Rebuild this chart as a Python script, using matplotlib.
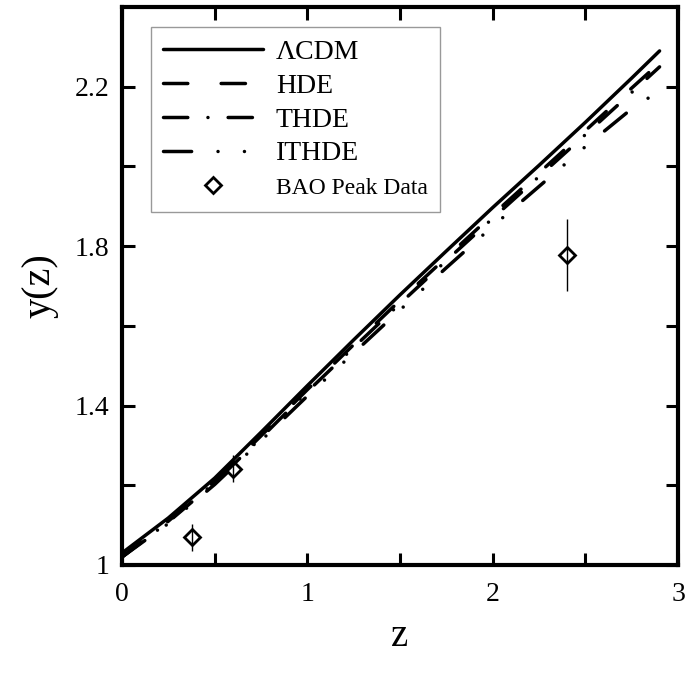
import matplotlib.pyplot as plt
import numpy as np

plt.rcParams["font.family"] = ["Liberation Serif", "DejaVu Serif"]

# curve samples
z = [0, 0.25, 0.5, 0.75, 1.0, 1.25, 1.5, 1.75, 2.0, 2.25, 2.5, 2.75, 2.9]
y_lcdm = [1.03, 1.118, 1.218, 1.333, 1.45, 1.565, 1.678, 1.788, 1.897, 2.003, 2.111, 2.222, 2.29]
y_hde = [1.02, 1.11, 1.21, 1.324, 1.44, 1.553, 1.664, 1.772, 1.879, 1.984, 2.09, 2.197, 2.26]
y_thde = [1.02, 1.108, 1.207, 1.319, 1.435, 1.546, 1.656, 1.764, 1.87, 1.975, 2.08, 2.186, 2.25]
y_ithde = [1.02, 1.104, 1.202, 1.312, 1.424, 1.532, 1.64, 1.746, 1.85, 1.95, 2.05, 2.145, 2.19]

# BAO peak data
z_bao = [0.38, 0.60, 2.40]
y_bao = [1.07, 1.242, 1.777]
err_bao = [0.034, 0.034, 0.09]

fig = plt.figure(figsize=(6.96, 6.82), dpi=100)
ax = fig.add_axes([0.1753, 0.1716, 0.799, 0.818])

lw = 2.5
ax.plot(z, y_hde, color="black", lw=lw, dashes=(7, 9.6), dash_capstyle="round", label="HDE")
ax.plot(z, y_thde, color="black", lw=lw, dashes=(7, 5.8, 0.01, 5.8), dash_capstyle="round", label="THDE")
ax.plot(z, y_ithde, color="black", lw=lw, dashes=(8.1, 7.6, 0.01, 7.6, 0.01, 7.6),
        dash_capstyle="round", label="ITHDE")
ax.plot(z, y_lcdm, color="black", lw=lw, solid_capstyle="round", label="\u039bCDM")

ax.errorbar(z_bao, y_bao, yerr=err_bao, fmt="none", ecolor="black", elinewidth=1.0, capsize=0)
ax.plot(z_bao, y_bao, "D", ms=8, mfc="none", mec="black", mew=2, ls="none", label="BAO Peak Data")

ax.set_xlim(0, 3)
ax.set_ylim(1, 2.4)
ax.set_xticks([0, 1, 2, 3])
ax.set_xticklabels(["0", "1", "2", "3"])
ax.set_xticks([0.5, 1.5, 2.5], minor=True)
ax.set_yticks([1, 1.4, 1.8, 2.2])
ax.set_yticklabels(["1", "1.4", "1.8", "2.2"])
ax.set_yticks([1.2, 1.6, 2.0], minor=True)
ax.tick_params(which="both", direction="in", top=True, right=True, length=9, width=2.2)
ax.tick_params(axis="x", which="major", labelsize=20, pad=12)
ax.tick_params(axis="y", which="major", labelsize=20, pad=9)
for s in ax.spines.values():
    s.set_linewidth(3)

ax.set_xlabel("z", fontsize=28, labelpad=8)
ax.set_ylabel("y(z)", fontsize=29, labelpad=12)

handles, labels = ax.get_legend_handles_labels()
order = [3, 0, 1, 2, 4]
leg = ax.legend([handles[i] for i in order], [labels[i] for i in order],
                loc="upper left", bbox_to_anchor=(0.052, 0.964), borderaxespad=0,
                fontsize=20, handlelength=3.6, labelspacing=0.3, borderpad=0.45,
                fancybox=False, edgecolor="#999999", framealpha=1, handletextpad=0.45)
leg.get_frame().set_linewidth(1.0)
leg.get_texts()[4].set_fontsize(17)

fig.savefig("out.png", dpi=100)
